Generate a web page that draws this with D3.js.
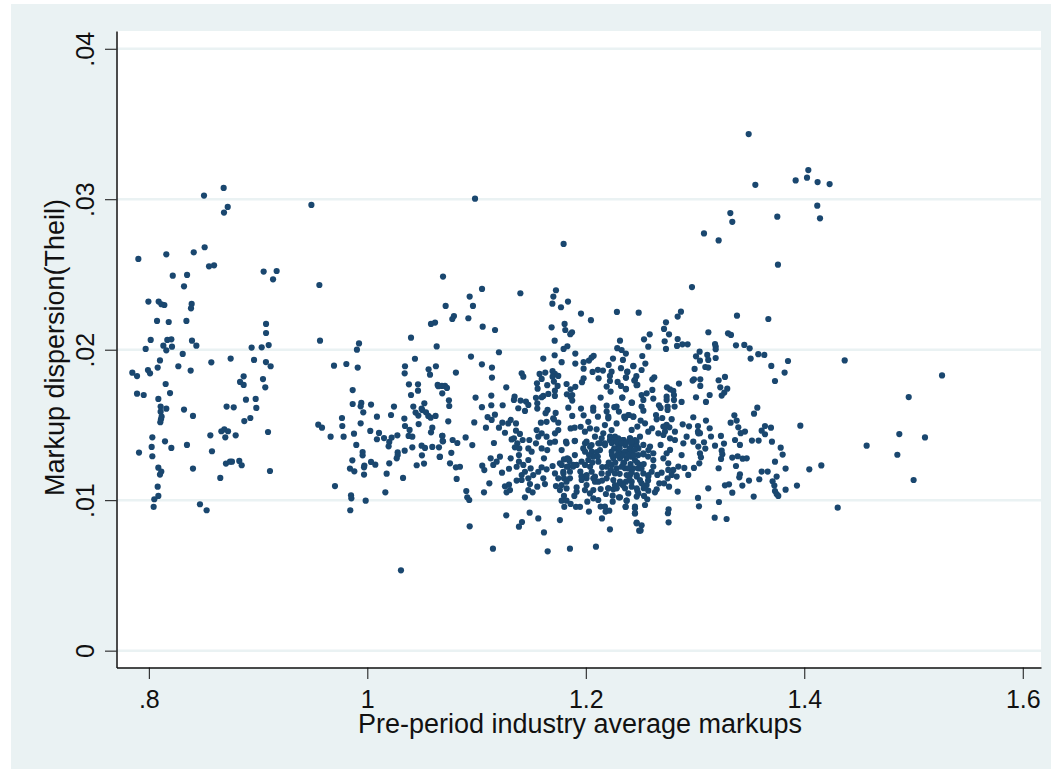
<!DOCTYPE html>
<html>
<head>
<meta charset="utf-8">
<script src="https://cdn.jsdelivr.net/npm/d3@7"></script>
<style>
  html, body { margin: 0; padding: 0; background: #fff; overflow: hidden; }
  svg text { font-family: "Liberation Sans", Arial, sans-serif; fill: #111; }
</style>
</head>
<body>
<svg id="chart" width="1051" height="769"></svg>
<script>
// values: [pre-period markup, Theil dispersion]
const upperLeft = [[.8505,.03024],[.8685,.03075],[.8722,.02949],[.8688,.02911],[.9488,.02962],[.8511,.02681],[.8411,.02647],[.8160,.02634],[.7904,.02603],[.8551,.02554],[.8597,.02561],[.8219,.02492],[.8350,.02497],[.8322,.02421],[.9051,.02519],[.9170,.02523],[.9137,.02468],[.9561,.02430],[.7996,.02320],[.8090,.02320],[.8115,.02302],[.8142,.02297],[.8392,.02304],[.8386,.02275],[.8075,.02191],[.8182,.02184],[.8344,.02191],[.9073,.02171],[.9073,.02111]];

const lowerLeft = [[.8017,.02065],[.7971,.02005],[.8133,.02027],[.8160,.01996],[.8169,.02065],[.8206,.02069],[.8212,.02020],[.8102,.01929],[.8081,.01881],[.7992,.01865],[.8011,.01843],[.7849,.01847],[.7892,.01825],[.8310,.01972],[.8270,.01890],[.8395,.02060],[.8435,.02027],[.8383,.01861],[.8572,.01916],[.8749,.01941],[.8941,.02014],[.9033,.02016],[.9097,.02031],[.9072,.01918],[.8963,.01932],[.9115,.01890],[.8868,.01823],[.8835,.01786],[.8868,.01766],[.9045,.01805],[.9066,.01750],[.8154,.01772],[.8194,.01712],[.7892,.01708],[.7953,.01699],[.8087,.01673],[.8108,.01622],[.8160,.01608],[.8108,.01588],[.8117,.01555],[.8111,.01537],[.8105,.01518],[.8322,.01602],[.8404,.01560],[.8712,.01622],[.8777,.01617],[.8889,.01668],[.8978,.01673],[.8984,.01613],[.8929,.01546],[.8874,.01526],[.9091,.01453],[.8664,.01458],[.8691,.01471],[.8725,.01458],[.8700,.01418],[.8563,.01431],[.8795,.01431],[.8032,.01418],[.8148,.01391],[.8026,.01354],[.8206,.01347],[.8349,.01367],[.7910,.01316],[.8032,.01292],[.8578,.01325],[.8706,.01243],[.8743,.01256],[.8761,.01256],[.8828,.01261],[.8850,.01232],[.8087,.01216],[.8114,.01190],[.8102,.01170],[.8404,.01210],[.8654,.01148],[.9109,.01194],[.8081,.01090],[.8087,.01028],[.8050,.01006],[.8044,.00955],[.8468,.00973],[.8529,.00933]];

const midLeft = [[.9567,.02060],[.9924,.02042],[.9905,.02000],[1.0400,.02080],[1.0635,.02022],[1.0436,.01940],[.9695,.01894],[.9808,.01905],[.9912,.01881],[1.0345,.01890],[1.0342,.01843],[1.0561,.01870],[1.0574,.01834],[1.0628,.01890],[1.0381,.01770],[1.0464,.01770],[1.0464,.01728],[1.0400,.01699],[1.0644,.01766],[1.0650,.01757],[.9866,.01732],[.9866,.01639],[.9945,.01646],[.9939,.01624],[1.0034,.01635],[.9963,.01584],[1.0244,.01622],[1.0421,.01622],[1.0522,.01644],[1.0497,.01608],[1.0442,.01582],[1.0467,.01562],[1.0503,.01599],[1.0537,.01584],[1.0558,.01560],[1.0580,.01548],[1.0625,.01560],[.9768,.01546],[1.0088,.01555],[1.0217,.01566],[1.0339,.01542],[.9939,.01511],[.9771,.01493],[1.0345,.01493],[1.0470,.01506],[1.0595,.01482],[1.0583,.01451],[.9551,.01502],[.9585,.01482],[.9664,.01422],[.9783,.01422],[.9878,.01442],[1.0027,.01460],[1.0107,.01447],[1.0088,.01405],[1.0153,.01413],[1.0223,.01416],[1.0275,.01431],[1.0201,.01387],[1.0195,.01358],[1.0387,.01467],[1.0378,.01427],[1.0412,.01422],[1.0687,.01427],[1.0693,.01391],[.9899,.01367],[.9957,.01320],[.9957,.01298],[1.0278,.01318],[1.0269,.01278],[1.0278,.01300],[1.0342,.01329],[1.0412,.01351],[1.0497,.01362],[1.0528,.01347],[1.0595,.01354],[1.0656,.01351],[1.0500,.01298],[1.0662,.01287],[.9863,.01265],[.9841,.01210],[.9881,.01192],[.9973,.01230],[.9970,.01218],[.9970,.01170],[1.0034,.01254],[1.0073,.01236],[1.0201,.01245],[1.0177,.01176],[1.0452,.01232],[1.0519,.01243],[1.0327,.01148],[.9704,.01094],[.9851,.01032],[.9854,.01012],[.9985,.00997],[1.0165,.01052],[.9844,.00933],[1.0308,.00534]];

const upperMiddle = [[1.0986,.03004],[1.1797,.02703],[1.0693,.02486],[1.1050,.02404],[1.1401,.02375],[1.1727,.02395],[1.1703,.02353],[1.1837,.02320],[1.1694,.02306],[1.1773,.02282],[1.0937,.02353],[1.0967,.02291],[1.0717,.02291],[1.0793,.02224],[1.0778,.02204],[1.0925,.02209],[1.0620,.02180],[1.0583,.02171],[1.1056,.02153],[1.1169,.02131],[1.1687,.02149],[1.1806,.02171],[1.1812,.02131],[1.1874,.02116],[1.1956,.02240]];

const centreUpper = [[1.1858,.02103],[1.1715,.02060],[1.1797,.02005],[1.1831,.02023],[1.1205,.01983],[1.1904,.01974],[1.0949,.01954],[1.1715,.01963],[1.1611,.01941],[1.1779,.01917],[1.1904,.01908],[1.1049,.01903],[1.1141,.01881],[1.1141,.01815],[1.0811,.01848],[1.1413,.01843],[1.1428,.01821],[1.1272,.01750],[1.1577,.01839],[1.1629,.01848],[1.1696,.01857],[1.1717,.01839],[1.1696,.01821],[1.1748,.01826],[1.1596,.01806],[1.1553,.01777],[1.1708,.01788],[1.1742,.01759],[1.1647,.01764],[1.1559,.01741],[1.1824,.01772],[1.1861,.01737],[1.1904,.01753],[1.1717,.01728],[1.1717,.01693],[1.1657,.01706],[1.1611,.01693],[1.1596,.01684],[1.1544,.01680],[1.1556,.01644],[1.1556,.01609],[1.1348,.01688],[1.1342,.01666],[1.1403,.01662],[1.1452,.01655],[1.1474,.01633],[1.1382,.01611],[1.1443,.01593],[1.1135,.01695],[1.0991,.01682],[1.1135,.01631],[1.1049,.01618],[1.1239,.01631],[1.0747,.01664],[1.0750,.01626],[1.0711,.01759],[1.0729,.01746],[1.0683,.01759],[1.0686,.01710],[1.1827,.01704],[1.1876,.01699],[1.1861,.01688],[1.1876,.01662],[1.1840,.01615],[1.1724,.01580],[1.1650,.01600],[1.1632,.01578],[1.1702,.01544],[1.1956,.01609],[1.1876,.01560],[1.1980,.01564],[1.2068,.01615],[1.2068,.01595],[1.2111,.01555],[1.2191,.01628],[1.2191,.01589],[1.2206,.01555],[1.2334,.01682],[1.2419,.01648],[1.2136,.01682],[1.2227,.01722],[1.2191,.01755],[1.2291,.01786],[1.2322,.01759],[1.2367,.01737],[1.2261,.01618],[1.2282,.01622],[1.2303,.01589],[1.2352,.01555],[1.2395,.01566],[1.2435,.01555],[1.1965,.01784],[1.1980,.01810],[1.2062,.01852],[1.1980,.01874],[1.1980,.01917],[1.2029,.01928],[1.2053,.01948],[1.2072,.01959],[1.2111,.01866],[1.2157,.01861],[1.2117,.01810],[1.2209,.01899],[1.2249,.01941],[1.2340,.01932],[1.2322,.01877],[1.2236,.01854],[1.2221,.01826],[1.2221,.01792],[1.2380,.01854],[1.2367,.01815],[1.2435,.01892],[1.2450,.01799],[1.2465,.01764],[1.2288,.02010],[1.2328,.01998],[1.2367,.01974],[1.2313,.02060],[1.2047,.02196],[1.2285,.02251]];

const rightUpper = [[1.2484,.02246],[1.2871,.02253],[1.2841,.02220],[1.2734,.02182],[1.2716,.02138],[1.2762,.02102],[1.2585,.02102],[1.2533,.02069],[1.2572,.02020],[1.2722,.02056],[1.2734,.02005],[1.2841,.02071],[1.2835,.02025],[1.2884,.02036],[1.2932,.02036],[1.3122,.02116],[1.3384,.02226],[1.3671,.02204],[1.3302,.02109],[1.3329,.02098],[1.3183,.02038],[1.3189,.02021],[1.3189,.02003],[1.3375,.02029],[1.3451,.02032],[1.3500,.02009],[1.3509,.01941],[1.3579,.01970],[1.3634,.01965],[1.3851,.01925],[1.3698,.01892],[1.3820,.01848],[1.3732,.01792],[1.3042,.01987],[1.3009,.01956],[1.3045,.01927],[1.3112,.01965],[1.3121,.01932],[1.3189,.01945],[1.2996,.01872],[1.3094,.01885],[1.3121,.01881],[1.3274,.01819],[1.3216,.01797],[1.2990,.01803],[1.2978,.01795],[1.3048,.01803],[1.3048,.01759],[1.3231,.01750],[1.3295,.01741],[1.3268,.01715],[1.3244,.01695],[1.3134,.01699],[1.3009,.01684],[1.3100,.01653],[1.2853,.01775],[1.2517,.01958],[1.2545,.01908],[1.2435,.01890],[1.2511,.01865],[1.2380,.01852],[1.2368,.01815],[1.2463,.01824],[1.2444,.01795],[1.2472,.01766],[1.2627,.01817],[1.2609,.01803],[1.2368,.01739],[1.2743,.01750],[1.2771,.01737],[1.2801,.01726],[1.2609,.01733],[1.2557,.01710],[1.2511,.01699],[1.2740,.01688],[1.2807,.01699],[1.2807,.01666],[1.2877,.01653],[1.2740,.01666],[1.2618,.01675],[1.2527,.01666],[1.2423,.01648],[1.2334,.01682],[1.2670,.01631],[1.2685,.01613],[1.2749,.01622],[1.2749,.01600],[1.2813,.01622],[1.2511,.01622],[1.2527,.01595],[1.3570,.01615],[1.3540,.01575],[1.3360,.01564],[1.3381,.01529],[1.3326,.01515],[1.3396,.01484],[1.3457,.01456],[1.3418,.01445],[1.3640,.01493],[1.3610,.01462],[1.3695,.01482],[1.3640,.01438],[1.3964,.01495],[1.3100,.01529],[1.2984,.01551],[1.3134,.01478],[1.2945,.01491],[1.2887,.01504],[1.2786,.01538],[1.2700,.01546],[1.2643,.01566],[1.2649,.01537],[1.3027,.01493],[1.3027,.01456],[1.3045,.01445],[1.3146,.01423],[1.3237,.01427],[1.2606,.01478],[1.2542,.01511],[1.2502,.01529],[1.2472,.01489],[1.2389,.01566],[1.2359,.01544],[1.2435,.01555],[1.2740,.01500],[1.2710,.01489],[1.2765,.01484],[1.2725,.01456]];

const rightLower = [[1.3183,.01362],[1.3265,.01376],[1.3366,.01400],[1.3411,.01367],[1.3521,.01396],[1.3582,.01396],[1.3704,.01389],[1.3784,.01349],[1.3802,.01303],[1.3082,.01385],[1.3094,.01343],[1.3030,.01356],[1.3045,.01311],[1.3054,.01285],[1.3039,.01245],[1.2990,.01214],[1.2877,.01300],[1.2902,.01214],[1.2938,.01168],[1.3244,.01329],[1.3250,.01305],[1.3238,.01274],[1.3341,.01283],[1.3390,.01292],[1.3436,.01276],[1.3473,.01278],[1.3375,.01227],[1.3216,.01212],[1.3732,.01256],[1.3829,.01210],[1.4046,.01205],[1.3610,.01190],[1.3665,.01190],[1.3411,.01172],[1.3405,.01152],[1.3747,.01157],[1.3588,.01139],[1.3494,.01130],[1.3710,.01125],[1.3433,.01097],[1.3726,.01097],[1.3933,.01097],[1.3829,.01070],[1.3732,.01061],[1.3747,.01041],[1.3762,.01028],[1.3537,.01024],[1.3311,.01105],[1.3274,.01099],[1.3341,.01050],[1.3121,.01079],[1.2841,.01057],[1.3027,.01015],[1.3036,.00959],[1.3219,.00988],[1.3180,.00884],[1.3289,.00875],[1.2758,.00939],[1.2752,.00913],[1.2758,.00853],[1.2542,.00968],[1.2450,.00946],[1.2450,.00913],[1.2466,.00851],[1.2511,.00833],[1.2502,.00798],[1.2365,.00955],[1.2374,.00997],[1.2313,.01019],[1.2563,.01006],[1.2533,.01028],[1.2572,.01063],[1.2466,.01024],[1.2472,.01063],[1.2633,.01052],[1.2649,.01072],[1.2673,.01112],[1.2716,.01112],[1.2762,.01090],[1.2655,.01168],[1.2694,.01183],[1.2749,.01145],[1.2832,.01157],[1.2847,.01223],[1.2801,.01201],[1.2755,.01201],[1.2786,.01168],[1.2572,.01157],[1.2511,.01112],[1.2420,.01090],[1.2368,.01123],[1.2313,.01112],[1.2405,.01168],[1.2466,.01157],[1.2496,.01234],[1.2435,.01212],[1.2359,.01212],[1.2527,.01305],[1.2618,.01312],[1.2618,.01267],[1.2618,.01223],[1.2710,.01278],[1.2740,.01312],[1.2755,.01245],[1.2405,.01334],[1.2359,.01378],[1.2450,.01378],[1.2527,.01367],[1.2588,.01356],[1.2685,.01367],[1.2771,.01334],[1.2816,.01400],[1.2923,.01422],[1.2893,.01378],[1.2984,.01389],[1.3030,.01444],[1.2664,.01444],[1.2725,.01489],[1.2572,.01455],[1.2496,.01422],[1.2420,.01467],[1.2344,.01400],[1.2328,.01312],[1.2420,.01289],[1.2710,.01433],[1.2816,.01455],[1.2771,.01411],[1.2344,.01245]];

const centreLower = [[1.0741,.01524],[1.0979,.01517],[1.1101,.01552],[1.1138,.01533],[1.1168,.01568],[1.1086,.01482],[1.1205,.01482],[1.1236,.01515],[1.1260,.01448],[1.1290,.01510],[1.1312,.01533],[1.1361,.01510],[1.1361,.01462],[1.1397,.01440],[1.1342,.01411],[1.1373,.01378],[1.1321,.01404],[1.1422,.01400],[1.1351,.01351],[1.1391,.01344],[1.1483,.01400],[1.1474,.01344],[1.1504,.01322],[1.1544,.01378],[1.1596,.01344],[1.1647,.01333],[1.1550,.01466],[1.1596,.01444],[1.1641,.01422],[1.1565,.01422],[1.1672,.01382],[1.1718,.01389],[1.1718,.01444],[1.1748,.01466],[1.1589,.01515],[1.1641,.01521],[1.1708,.01537],[1.1748,.01515],[1.0686,.01428],[1.0689,.01393],[1.0781,.01400],[1.0824,.01380],[1.0900,.01417],[1.0961,.01366],[1.1159,.01380],[1.0769,.01315],[1.0665,.01289],[1.0757,.01245],[1.0811,.01218],[1.0848,.01222],[1.0818,.01141],[1.1052,.01229],[1.1071,.01200],[1.1129,.01278],[1.1153,.01234],[1.1184,.01256],[1.1214,.01289],[1.1233,.01183],[1.1297,.01209],[1.1312,.01278],[1.1117,.01112],[1.1068,.01052],[1.1260,.01092],[1.1297,.01103],[1.1306,.01067],[1.1275,.01052],[1.0906,.01061],[1.0915,.01019],[1.0933,.01001],[1.1272,.00899],[1.0937,.00826],[1.1486,.00917],[1.1565,.00879],[1.1416,.00855],[1.1388,.00824],[1.1617,.00786],[1.1763,.00868],[1.1150,.00678],[1.1651,.00660],[1.1855,.00678],[1.2093,.00691],[1.2148,.00879],[1.2221,.00806],[1.2465,.00846],[1.2489,.00797],[1.1443,.01019],[1.1388,.01300],[1.1388,.01256],[1.1367,.01222],[1.1428,.01234],[1.1474,.01267],[1.1495,.01211],[1.1443,.01189],[1.1413,.01167],[1.1367,.01130],[1.1413,.01134],[1.1474,.01145],[1.1519,.01167],[1.1565,.01189],[1.1596,.01218],[1.1641,.01205],[1.1617,.01278],[1.1611,.01145],[1.1626,.01107],[1.1556,.01090],[1.1489,.01107],[1.1474,.01067],[1.1513,.01052],[1.1696,.01227],[1.1718,.01178],[1.1763,.01245],[1.1800,.01271],[1.1843,.01271],[1.1794,.01189],[1.1840,.01223],[1.1885,.01223],[1.1916,.01234],[1.1855,.01189],[1.1748,.01145],[1.1800,.01145],[1.1855,.01145],[1.1824,.01123],[1.1727,.01094],[1.1779,.01101],[1.1763,.01067],[1.1824,.01078],[1.1962,.01160],[1.2007,.01145],[1.1962,.01134],[1.2007,.01101],[1.2084,.01156],[1.2084,.01123],[1.1916,.01085],[1.1992,.01067],[1.1916,.01056],[1.1895,.01028],[1.2069,.01067],[1.2136,.01074],[1.2038,.01045],[1.2014,.00990],[1.2069,.01012],[1.2114,.01001],[1.2184,.01041],[1.2206,.01079],[1.2252,.01072],[1.2267,.01101],[1.2246,.01030],[1.2246,.00990],[1.2303,.01019],[1.2374,.00997],[1.2364,.00955],[1.2450,.00957],[1.2450,.00912],[1.1800,.01028],[1.1779,.00997],[1.1824,.00997],[1.1803,.00955],[1.1861,.00975],[1.1910,.00955],[1.1947,.00955],[1.2029,.00924],[1.2136,.00957],[1.2175,.00957],[1.2181,.00924],[1.2215,.00930],[1.1824,.01378],[1.1898,.01393],[1.1861,.01477],[1.1898,.01482],[1.1953,.01488],[1.1992,.01455],[1.2023,.01521],[1.2038,.01477],[1.2099,.01471],[1.2160,.01444],[1.2175,.01499],[1.2206,.01544],[1.2236,.01466],[1.2282,.01510],[1.2267,.01422],[1.1977,.01344],[1.2007,.01389],[1.2053,.01366],[1.2129,.01378],[1.2175,.01378],[1.2221,.01400],[1.2297,.01411],[1.2343,.01400],[1.2404,.01411],[1.2465,.01389]];

const denseCore = [[1.2084,.01422],[1.2145,.01411],[1.2222,.01422],[1.2267,.01400],[1.2344,.01400],[1.2405,.01411],[1.2450,.01400],[1.2298,.01366],[1.2359,.01366],[1.2420,.01366],[1.2481,.01344],[1.2527,.01311],[1.2573,.01333],[1.1819,.01389],[1.1901,.01395],[1.1993,.01378],[1.2039,.01355],[1.2115,.01378],[1.2176,.01366],[1.1779,.01333],[1.1993,.01322],[1.2054,.01322],[1.2130,.01333],[1.2237,.01322],[1.2298,.01322],[1.2359,.01322],[1.2420,.01322],[1.1831,.01278],[1.1962,.01256],[1.2023,.01267],[1.2069,.01289],[1.2252,.01278],[1.2313,.01278],[1.2374,.01278],[1.2450,.01267],[1.1779,.01234],[1.1825,.01222],[1.1886,.01234],[1.1993,.01234],[1.2039,.01222],[1.2115,.01256],[1.2191,.01222],[1.2237,.01234],[1.2283,.01211],[1.2328,.01222],[1.2389,.01211],[1.2481,.01211],[1.2527,.01178],[1.2603,.01189],[1.1795,.01178],[1.1962,.01156],[1.2008,.01167],[1.2054,.01189],[1.2145,.01178],[1.2206,.01178],[1.2267,.01178],[1.2374,.01167],[1.2466,.01167],[1.2573,.01167],[1.2191,.01145],[1.2252,.01134],[1.2313,.01123],[1.2420,.01123],[1.2496,.01134],[1.2069,.01145],[1.2115,.01123],[1.2206,.01079],[1.2283,.01079],[1.2359,.01079],[1.2466,.01079],[1.2557,.01101],[1.2389,.01045],[1.2481,.01045],
  [1.2237,.01380],[1.2283,.01385],[1.2328,.01380],[1.2374,.01385],[1.2420,.01390],[1.2466,.01360],[1.2260,.01345],[1.2310,.01345],[1.2400,.01345],[1.2450,.01335],[1.2480,.01300],[1.2240,.01300],[1.2290,.01300],[1.2340,.01300],[1.2395,.01300],[1.2440,.01300],[1.2210,.01250],[1.2270,.01250],[1.2350,.01250],[1.2410,.01240],[1.2470,.01250],[1.2530,.01240],[1.2570,.01290],[1.2100,.01320],[1.2060,.01250],[1.2150,.01220],[1.2230,.01200],[1.2310,.01175],[1.2420,.01185],[1.2510,.01210],[1.2570,.01130],[1.2150,.01130],[1.2030,.01300],[1.2110,.01290],[1.1900,.01300],[1.1950,.01190],[1.1850,.01260],[1.2340,.01100],[1.2400,.01140],[1.2530,.01080]];

const farRight = [[1.3491,.03433],[1.4037,.03194],[1.3921,.03125],[1.4025,.03143],[1.4122,.03114],[1.4232,.03101],[1.3552,.03096],[1.4119,.02957],[1.4144,.02873],[1.3323,.02908],[1.3341,.02850],[1.3753,.02884],[1.3082,.02773],[1.3216,.02726],[1.3759,.02565],[1.2972,.02416],[1.4370,.01929],[1.5261,.01829],[1.4956,.01685],[1.4870,.01439],[1.5105,.01417],[1.4571,.01362],[1.4852,.01302],[1.5001,.01134],[1.4156,.01231],[1.4306,.00950]];

const xTicks = [.8, 1, 1.2, 1.4, 1.6];
const xTickLabels = [".8", "1", "1.2", "1.4", "1.6"];
const yTicks = [0, .01, .02, .03, .04];
const yTickLabels = ["0", ".01", ".02", ".03", ".04"];

var points = [].concat(upperLeft, lowerLeft, midLeft, upperMiddle, centreUpper, rightUpper, rightLower, centreLower, denseCore, farRight);

var bgColor = "#eaf2f3", markColor = "#1a476f";
var width = 1051, height = 769;
var plot = {left: 116.5, right: 1041, top: 31, bottom: 667.5};

var x = d3.scaleLinear().domain([.7704, 1.6167]).range([plot.left, plot.right]);
var y = d3.scaleLinear().domain([-.00112, .04118]).range([plot.bottom, plot.top]);

var svg = d3.select("#chart");

// outer graph region, then the white plot region on top
svg.append("rect").attr("x", 11).attr("y", 4).attr("width", width - 11).attr("height", height - 4).attr("fill", bgColor);
svg.append("rect").attr("x", plot.left).attr("y", plot.top)
    .attr("width", plot.right - plot.left).attr("height", plot.bottom - plot.top).attr("fill", "#fff");

// grid lines
svg.append("g").selectAll("line").data(yTicks).join("line")
    .attr("x1", plot.left).attr("x2", plot.right)
    .attr("y1", d => y(d)).attr("y2", d => y(d))
    .attr("stroke", bgColor).attr("stroke-width", 2.5);

// points
svg.append("g").selectAll("circle").data(points).join("circle")
    .attr("cx", d => x(d[0]))
    .attr("cy", d => y(d[1]))
    .attr("r", 3.1)
    .attr("fill", markColor);

// axes
var xAxis = svg.append("g")
    .attr("transform", `translate(0,${plot.bottom})`)
    .call(d3.axisBottom(x).tickValues(xTicks).tickSize(11.5).tickSizeOuter(0)
        .tickFormat((d, i) => xTickLabels[i]));
xAxis.selectAll("text").attr("y", 40.5).attr("dy", 0).style("font-size", "25px");

var yAxis = svg.append("g")
    .attr("transform", `translate(${plot.left},0)`)
    .call(d3.axisLeft(y).tickValues(yTicks).tickSize(11.5).tickSizeOuter(0)
        .tickFormat((d, i) => yTickLabels[i]));
yAxis.selectAll("text")
    .attr("transform", "translate(-22.5,0) rotate(-90)")
    .attr("x", 0).attr("y", 0).attr("dy", 0)
    .attr("text-anchor", "middle")
    .style("font-size", "25px");

svg.selectAll(".domain").attr("stroke", "#111").attr("stroke-width", 1.5);
svg.selectAll(".tick line").attr("stroke", "#111").attr("stroke-width", 1);

// axis titles
svg.append("text")
    .attr("x", 580).attr("y", 733)
    .attr("text-anchor", "middle")
    .style("font-size", "27px")
    .text("Pre-period industry average markups");

svg.append("text")
    .attr("transform", "translate(64,347.5) rotate(-90)")
    .attr("text-anchor", "middle")
    .style("font-size", "27px")
    .text("Markup dispersion(Theil)");
</script>
</body>
</html>
